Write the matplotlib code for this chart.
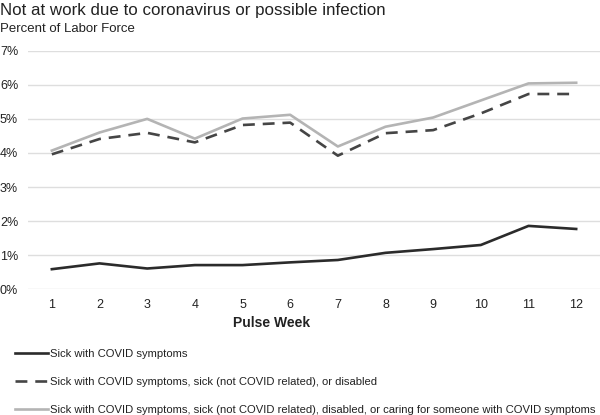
import matplotlib
matplotlib.use("Agg")
import matplotlib.pyplot as plt
from matplotlib.ticker import FuncFormatter

plt.rcParams['font.family'] = ['Liberation Sans', 'DejaVu Sans']

# --- data (percent of labor force) ---
weeks = list(range(1, 13))
covid_sick = [0.59, 0.76, 0.61, 0.71, 0.71, 0.79, 0.86, 1.07, 1.18, 1.30, 1.86, 1.77]
sick_or_disabled = [3.96, 4.41, 4.59, 4.31, 4.82, 4.89, 3.92, 4.58, 4.67, 5.16, 5.73, 5.73]
incl_caring = [4.07, 4.60, 5.00, 4.42, 5.01, 5.12, 4.19, 4.77, 5.04, 5.54, 6.04, 6.06]

labels = [
    "Sick with COVID symptoms",
    "Sick with COVID symptoms, sick (not COVID related), or disabled",
    "Sick with COVID symptoms, sick (not COVID related), disabled, or caring for someone with COVID symptoms",
]

fig = plt.figure(figsize=(6, 4.15), dpi=100)
ax = fig.add_axes([0.0467, 0.3029, 0.9533, 0.5749])

lw = 1.9
ax.plot(weeks, covid_sick, color='#2b2b2b', lw=lw, label=labels[0])
ax.plot(weeks, sick_or_disabled, color='#454545', lw=lw, dashes=(4.5, 3.0), label=labels[1])
ax.plot(weeks, incl_caring, color='#b4b4b4', lw=lw, label=labels[2])

ax.set_xlim(0.5, 12.5)
ax.set_ylim(0, 7)
ax.set_yticks(range(0, 8))
ax.set_xticks(weeks)
ax.yaxis.set_major_formatter(FuncFormatter(lambda v, p: f"{int(v)}%"))
ax.grid(axis='y', color='#dedede', lw=1)
ax.set_axisbelow(True)
for s in ax.spines.values():
    s.set_visible(False)
ax.tick_params(length=0, labelsize=9, colors='#222222')
ax.tick_params(axis='x', pad=7)
for t in ax.get_yticklabels():
    t.set_horizontalalignment('left')
    t.set_x(-0.0467 / 0.9533)
ax.yaxis.set_tick_params(pad=0)

fig.text(0.0, 0.992, "Not at work due to coronavirus or possible infection",
         fontsize=12.2, va='top', ha='left', color='#222222')
fig.text(0.0, 0.944, "Percent of Labor Force", fontsize=9.5, va='top', ha='left',
         color='#222222')
fig.text(272 / 600, 1 - 323 / 415, "Pulse Week", fontsize=10, fontweight='bold',
         ha='center', va='center', color='#222222')

fig.legend(loc='upper left', bbox_to_anchor=(0.025, 1 - 349 / 415), frameon=False,
           fontsize=8.1, handlelength=2.9, handletextpad=0.25, labelspacing=1.6,
           borderaxespad=0, borderpad=0, labelcolor='#222222')

fig.savefig("out.png", dpi=100)
